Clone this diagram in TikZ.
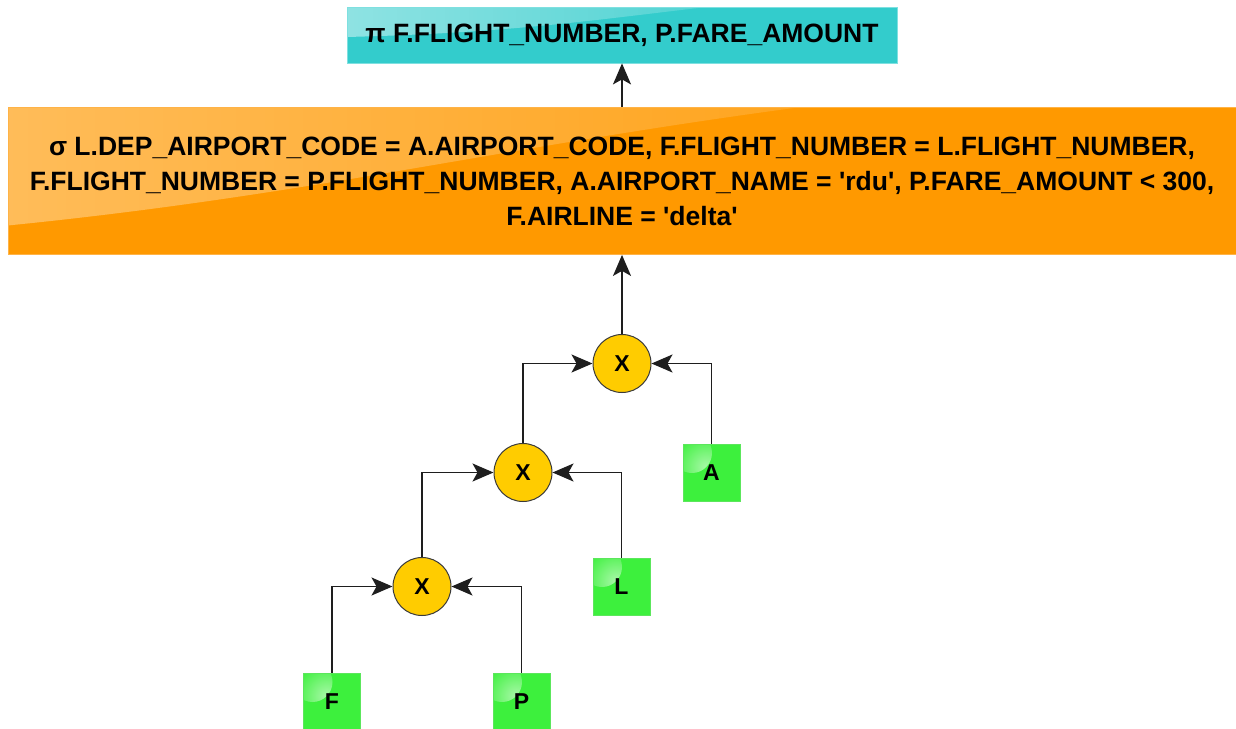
\documentclass[tikz,border=0pt]{standalone}
\usepackage{fontspec}
\setmainfont{Liberation Sans}
\usetikzlibrary{arrows.meta,fadings}

\definecolor{projcyan}{HTML}{33CCCC}
\definecolor{projedge}{HTML}{7FE0E0}
\definecolor{selorange}{HTML}{FF9900}
\definecolor{seledge}{HTML}{FFB347}
\definecolor{joinyellow}{HTML}{FFCC00}
\definecolor{joinedge}{HTML}{3A3A3A}
\definecolor{relgreen}{HTML}{3DF03D}
\definecolor{reledge}{HTML}{5CE65C}
\definecolor{wire}{HTML}{1E1E1E}

\tikzfading[name=glossfade, left color=transparent!0, right color=transparent!100]

\newcommand{\sq}{\textquotesingle}

\begin{document}
\begin{tikzpicture}[x=1pt,y=-1pt,
  projbox/.style={fill=projcyan, draw=projedge, line width=0.8pt,
    minimum width=550pt, minimum height=56pt, inner sep=0pt,
    font=\bfseries\fontsize{26.5}{30}\selectfont,
    path picture={\fill[white, fill opacity=0.45, path fading=glossfade]
      (path picture bounding box.north west) -- ++(360pt,0pt)
      .. controls +(-120pt,-14pt) and +(160pt,4pt) .. ++(-360pt,-30pt) -- cycle;}},
  selbox/.style={fill=selorange, draw=seledge, line width=0.8pt,
    minimum width=1228pt, minimum height=147pt, inner sep=0pt,
    align=center, font=\bfseries\fontsize{26.5}{35}\selectfont,
    path picture={\fill[white, fill opacity=0.35, path fading=glossfade]
      (path picture bounding box.north west) -- ++(790pt,0pt)
      .. controls +(-300pt,-40pt) and +(300pt,30pt) .. ++(-790pt,-118pt) -- cycle;}},
  joinop/.style={circle, fill=joinyellow, draw=joinedge, line width=1pt,
    minimum size=58pt, inner sep=0pt,
    font=\bfseries\fontsize{23}{23}\selectfont},
  relbox/.style={fill=relgreen, draw=reledge, line width=0.8pt,
    minimum size=57pt, inner sep=0pt,
    font=\bfseries\fontsize{23}{23}\selectfont,
    path picture={\shade[inner color=white!55!relgreen, outer color=relgreen]
      ([shift={(9pt,-9pt)}]path picture bounding box.north west) circle (20pt);}},
  flow/.style={draw=wire, line width=1.5pt,
    -{Stealth[length=21pt,width=18pt,inset=5pt]}}
]
\useasboundingbox[fill=white] (0,0) rectangle (1236,728);

% operators of the query tree
\node[projbox] (proj) at (622,35) {π F.FLIGHT\_NUMBER, P.FARE\_AMOUNT};
\node[selbox] (sel) at (622,181) {σ L.DEP\_AIRPORT\_CODE = A.AIRPORT\_CODE, F.FLIGHT\_NUMBER = L.FLIGHT\_NUMBER,\\
F.FLIGHT\_NUMBER = P.FLIGHT\_NUMBER, A.AIRPORT\_NAME = \sq rdu\sq, P.FARE\_AMOUNT < 300,\\
F.AIRLINE = \sq delta\sq};

\node[joinop] (x1) at (622,363.5) {X};
\node[joinop] (x2) at (523,472.5) {X};
\node[joinop] (x3) at (422,586.5) {X};

% base relations
\node[relbox] (a) at (711.5,472.5) {A};
\node[relbox] (l) at (621.5,586.5) {L};
\node[relbox] (f) at (332,701.5) {F};
\node[relbox] (p) at (521.5,701.5) {P};

% data flow
\draw[flow] (sel.north) -- (proj.south);
\draw[flow] (x1.north) -- (sel.south);
\draw[flow] (x2.north) |- (x1.west);
\draw[flow] (a.north) |- (x1.east);
\draw[flow] (x3.north) |- (x2.west);
\draw[flow] (l.north) |- (x2.east);
\draw[flow] (f.north) |- (x3.west);
\draw[flow] (p.north) |- (x3.east);
\end{tikzpicture}
\end{document}
